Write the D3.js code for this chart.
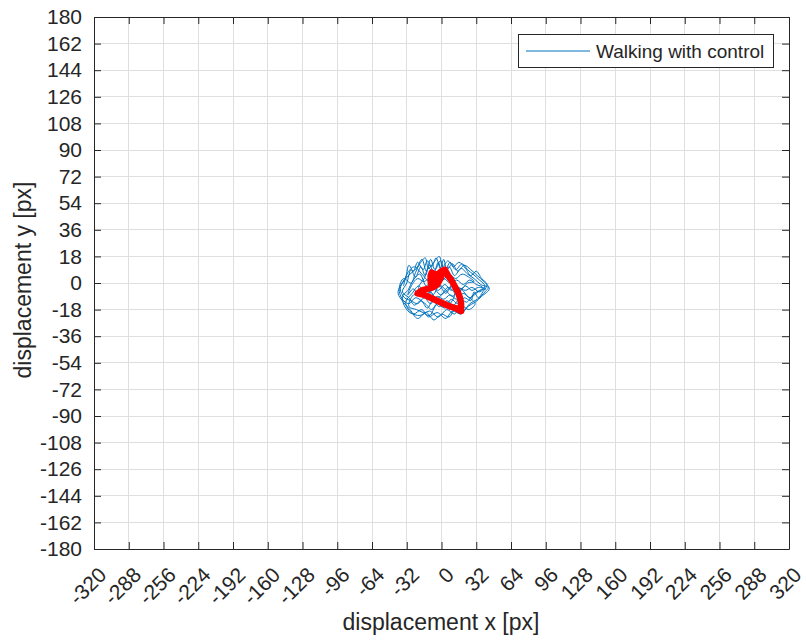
<!DOCTYPE html>
<html>
<head>
<meta charset="utf-8">
<script src="https://cdn.jsdelivr.net/npm/d3@7"></script>
<style>
  body { margin: 0; background: #fff; }
  text { font-family: "Liberation Sans", Arial, Helvetica, sans-serif; fill: #262626; }
</style>
</head>
<body>
<svg id="chart" width="806" height="643"></svg>
<script>
// tick values
const xTicks = [-320, -288, -256, -224, -192, -160, -128, -96, -64, -32, 0, 32, 64, 96, 128, 160, 192, 224, 256, 288, 320];
const yTicks = [-180, -162, -144, -126, -108, -90, -72, -54, -36, -18, 0, 18, 36, 54, 72, 90, 108, 126, 144, 162, 180];

// blue trajectory (walking with control)
const blueX = [-2, -8, -14, -20, -26, -31, -36, -33, -26, -18, -12, -4, 4, 10, 18, 24, 31, 37, 44, 39,
    33, 27, 21, 15, 10, 5, 2, -1, -5, -9, -13, -17, -22, -26, -30, -33, -38, -40, -35, -29,
    -22, -14, -7, 0, 7, 13, 20, 26, 33, 40, 43, 36, 30, 24, 18, 12, 7, 1, -3, -7,
    -11, -15, -19, -24, -28, -32, -36, -30, -25, -19, -13, -8, -2, 5, 11, 17, 23, 29, 35, 41,
    34, 28, 22, 16, 10, 4, -2, -8, -14, -20, -26, -31, -27, -22, -16, -10, -4, 2, 8, 14,
    20, 26, 32, 38, 32, 26, 20, 14, 8, 2, -4, -10, -16, -22, -28, -34, -38, -34, -29, -23,
    -18, -14, -10, -6, -1, 3, 8, 13, 19, 24, 29, 35, 40, 35, 28, 22, 15, 9, 3, -3,
    -9, -15, -21, -27, -33, -28, -20, -11, -3, 5, 12, 18, 25, 31, 24, 17, 10, 3, -3,
    -6, -12, -16, -21, -17, -10, -5, 1, 6, 12, 9, 3, -4, -9, -15, -24, -30, -36, -39, -35,
    -28, -24, -20, -15, -12, -7, -2, 1, 6, 11, 16, 22, 27, 32, 37, 42, 38, 34, 30, 27,
    21, 15, 9, 4, -1, -6, -11, -17, -23, -30, -27, -20, -13, -7, -1, 5, 11, 18, 24, 30,
    25, 19, 13, 7, 1, -5, -11, -18, -25, -31, -35];
const blueY = [-3, 4, -2, 6, 2, -5, -9, -17, -21, -18, -23, -20, -24, -19, -21, -16, -13, -9, -4, 1,
    5, 9, 12, 8, 13, 9, 16, 10, 17, 11, 15, 9, 14, 8, 12, 4, -2, -7, -13, -18,
    -24, -20, -25, -21, -23, -17, -19, -14, -11, -6, -3, -1, 3, 6, 10, 5, 11, 6, 14, 7,
    12, 5, 11, 4, 9, 0, -6, -10, -15, -12, -17, -12, -16, -12, -15, -10, -13, -8, -5, -4,
    -3, -5, -2, -6, -1, -7, -2, -8, -3, -9, -4, -8, -1, 3, 1, 4, 1, 3, 0, 2,
    -1, 2, -1, -3, -7, -10, -7, -11, -8, -11, -9, -14, -10, -14, -12, -10, -4, 2, 6, 10,
    16, 8, 16, 9, 15, 8, 14, 9, 13, 9, 6, 2, -2, -6, -3, -5, -3, -5, -1, -5,
    -1, -6, -2, -7, -13, -20, -22, -19, -23, -18, -21, -15, -18, -14, -9, -4, -9, -4, 0,
    5, 10, 3, -3, -9, -6, -11, -7, -3, -7, -13, -17, -14, -18, -14, -10, -14, -11, -4, 3,
    0, 7, 13, 17, 10, 14, 18, 11, 15, 11, 14, 10, 5, 8, 3, -1, -6, -10, -6, -12,
    -10, -14, -11, -15, -12, -16, -22, -20, -18, -16, -9, -6, -8, -4, -8, -5, -2, -4, 0, 1,
    4, 6, 3, 6, 2, 4, 1, 6, 11, 7, -2];

// red averaged path
const redX = [-9, -10, -10, -9, -6, -4, -6, -9, -8, -3, 0, 3, 6, 9, 12, 15, 17, 18, 18, 13,
    8, 2, -4, -10, -16, -22, -18, -13, -8, -4, -1, 1];
const redY = [-3, 1, 5, 7, 6, 3, 1, 2, 5, 6, 8, 9, 5, 2, -2, -6, -10, -14, -19, -17,
    -16, -14, -12, -10, -8, -7, -5, -4, -3, -1, 3, 7];

const legendLabel = "Walking with control";

const svg = d3.select("#chart");
const plotLeft = 94, plotRight = 789, plotTop = 17, plotBottom = 549;
const axisColor = "#262626", gridColor = "#dfdfdf";

const x = d3.scaleLinear().domain([-320, 320]).range([plotLeft, plotRight]);
const y = d3.scaleLinear().domain([-180, 180]).range([plotBottom, plotTop]);

svg.append("rect").attr("x", 0).attr("y", 0).attr("width", 806).attr("height", 643).attr("fill", "#fff");

// grid
const grid = svg.append("g").attr("class", "grid");
grid.selectAll("line.gx").data(xTicks).join("line")
    .attr("class", "gx")
    .attr("x1", d => x(d)).attr("x2", d => x(d))
    .attr("y1", plotTop).attr("y2", plotBottom)
    .attr("stroke", gridColor).attr("stroke-width", 1).attr("shape-rendering", "crispEdges");
grid.selectAll("line.gy").data(yTicks).join("line")
    .attr("class", "gy")
    .attr("x1", plotLeft).attr("x2", plotRight)
    .attr("y1", d => y(d)).attr("y2", d => y(d))
    .attr("stroke", gridColor).attr("stroke-width", 1).attr("shape-rendering", "crispEdges");

// data lines
const bluePts = blueX.map((v, i) => [v, blueY[i]]);
const redPts = redX.map((v, i) => [v, redY[i]]);

svg.append("path").datum(bluePts)
    .attr("d", d3.line().x(d => x(d[0])).y(d => y(d[1])).curve(d3.curveCatmullRom.alpha(0.5)))
    .attr("fill", "none")
    .attr("stroke", "#0072BD")
    .attr("stroke-width", 1)
    .attr("stroke-linejoin", "round");

svg.append("path").datum(redPts)
    .attr("d", d3.line().x(d => x(d[0])).y(d => y(d[1])))
    .attr("fill", "none")
    .attr("stroke", "#ff0000")
    .attr("stroke-width", 6.5)
    .attr("stroke-linejoin", "round")
    .attr("stroke-linecap", "round");

// axes (ticks pointing inward, box on)
const fmt = d => String(d);
function styleAxis(g) {
    g.selectAll("path").attr("stroke", axisColor);
    g.selectAll("line").attr("stroke", axisColor);
    g.attr("font-size", null).attr("font-family", null);
}

svg.append("g")
    .attr("transform", `translate(0,${plotBottom})`)
    .call(d3.axisBottom(x).tickValues(xTicks).tickSizeInner(-7).tickSizeOuter(0).tickFormat(fmt))
    .call(styleAxis)
    .call(g => g.selectAll("text")
        .attr("y", 0).attr("dy", "0.35em")
        .attr("text-anchor", "end")
        .attr("transform", "translate(8,22) rotate(-45)")
        .style("font-size", "21px")
        .attr("fill", axisColor));

svg.append("g")
    .attr("transform", `translate(${plotLeft},0)`)
    .call(d3.axisLeft(y).tickValues(yTicks).tickSizeInner(-7).tickSizeOuter(0).tickPadding(12).tickFormat(fmt))
    .call(styleAxis)
    .call(g => g.selectAll("text").style("font-size", "21px").attr("fill", axisColor));

svg.append("g")
    .attr("transform", `translate(0,${plotTop})`)
    .call(d3.axisTop(x).tickValues(xTicks).tickSizeInner(-7).tickSizeOuter(0).tickFormat(""))
    .call(styleAxis);

svg.append("g")
    .attr("transform", `translate(${plotRight},0)`)
    .call(d3.axisRight(y).tickValues(yTicks).tickSizeInner(-7).tickSizeOuter(0).tickFormat(""))
    .call(styleAxis);

// axis titles
svg.append("text")
    .attr("x", 441).attr("y", 630)
    .attr("text-anchor", "middle")
    .style("font-size", "23px")
    .text("displacement x [px]");

svg.append("text")
    .attr("transform", `translate(31,280) rotate(-90)`)
    .attr("text-anchor", "middle")
    .style("font-size", "23px")
    .text("displacement y [px]");

// legend
const legend = svg.append("g").attr("transform", "translate(518,34)");
legend.append("rect")
    .attr("width", 255).attr("height", 33)
    .attr("fill", "#fff").attr("stroke", axisColor).attr("stroke-width", 1)
    .attr("shape-rendering", "crispEdges");
legend.append("line")
    .attr("x1", 8).attr("x2", 72).attr("y1", 17).attr("y2", 17)
    .attr("stroke", "#0072BD").attr("stroke-width", 1);
legend.append("text")
    .attr("x", 78).attr("y", 17).attr("dy", "0.35em")
    .style("font-size", "19px")
    .text(legendLabel);
</script>
</body>
</html>
